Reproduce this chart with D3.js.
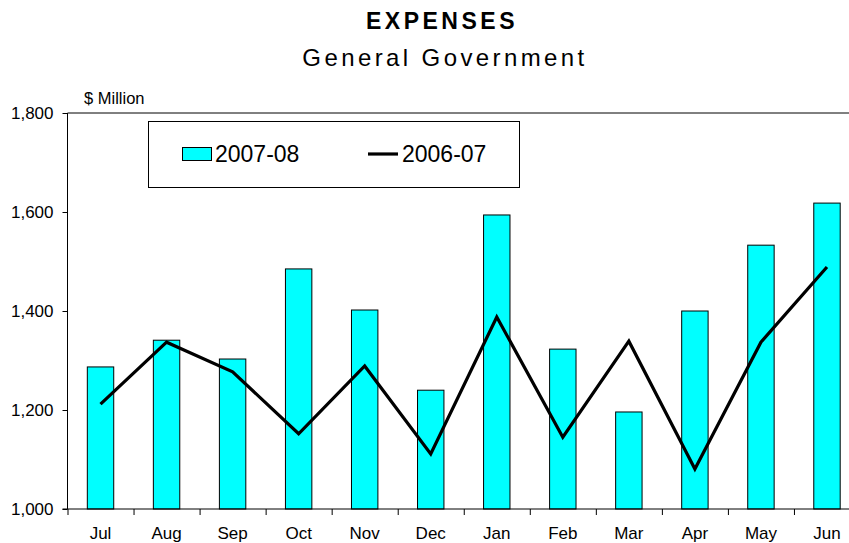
<!DOCTYPE html>
<html>
<head>
<meta charset="utf-8">
<script src="https://cdn.jsdelivr.net/npm/d3@7"></script>
<style>
  body { margin: 0; background: #fff; }
  svg { display: block; font-family: "Liberation Sans", Arial, sans-serif; }
</style>
</head>
<body>
<svg id="chart" width="849" height="543"></svg>
<script>
const months = ['Jul', 'Aug', 'Sep', 'Oct', 'Nov', 'Dec', 'Jan', 'Feb', 'Mar', 'Apr', 'May', 'Jun'];
const expenses0708 = [1287, 1341, 1303, 1485, 1402, 1240, 1594, 1323, 1196, 1400, 1533, 1618];
const expenses0607 = [1212, 1337, 1277, 1152, 1289, 1111, 1388, 1145, 1339, 1081, 1337, 1489];
const yTicks = [1000, 1200, 1400, 1600, 1800];

const svg = d3.select('#chart');
const plotLeft = 67.5, plotRight = 860, plotTop = 113, plotBottom = 509;

const y = d3.scaleLinear().domain([1000, 1800]).range([plotBottom, plotTop]);
const xCat = d3.scaleBand().domain(months).range([plotLeft, plotRight]).padding(0);
const xBar = d3.scaleBand().domain(months).range([plotLeft, plotRight])
  .paddingInner(0.6).paddingOuter(0.3);

// titles
svg.append('text')
  .attr('x', 442).attr('y', 29)
  .attr('text-anchor', 'middle')
  .attr('font-size', '23px')
  .attr('font-weight', 'bold')
  .attr('letter-spacing', '3.5px')
  .text('EXPENSES');

svg.append('text')
  .attr('x', 445).attr('y', 66)
  .attr('text-anchor', 'middle')
  .attr('font-size', '24px')
  .attr('letter-spacing', '3.4px')
  .text('General Government');

svg.append('text')
  .attr('x', 84).attr('y', 104)
  .attr('font-size', '16.5px')
  .text('$ Million');

// top frame line
svg.append('line')
  .attr('x1', plotLeft).attr('x2', 849)
  .attr('y1', plotTop).attr('y2', plotTop)
  .attr('stroke', '#000').attr('stroke-width', 1);

// bars
svg.append('g')
  .selectAll('rect')
  .data(expenses0708)
  .enter()
  .append('rect')
  .attr('x', (d, i) => xBar(months[i]))
  .attr('y', (d) => y(d))
  .attr('width', xBar.bandwidth())
  .attr('height', (d) => plotBottom - y(d))
  .attr('fill', '#00ffff')
  .attr('stroke', '#000')
  .attr('stroke-width', 1);

// line
const line = d3.line()
  .x((d, i) => xCat(months[i]) + xCat.bandwidth() / 2)
  .y((d) => y(d));

svg.append('path')
  .datum(expenses0607)
  .attr('d', line)
  .attr('fill', 'none')
  .attr('stroke', '#000')
  .attr('stroke-width', 3.2)
  .attr('stroke-linejoin', 'miter');

// y axis
const yAxis = d3.axisLeft(y)
  .tickValues(yTicks)
  .tickSize(5)
  .tickPadding(9)
  .tickFormat(d3.format(','));

const gy = svg.append('g')
  .attr('transform', `translate(${plotLeft},0)`)
  .call(yAxis)
  .attr('font-family', null)
  .attr('font-size', null);
gy.select('.domain').attr('d', `M0,${plotTop}V${plotBottom}`).attr('stroke', '#000');
gy.selectAll('text')
  .attr('font-size', '17px')
  .attr('fill', '#000');

// x axis
const gx = svg.append('g')
  .attr('transform', `translate(0,${plotBottom})`);
gx.append('line')
  .attr('x1', plotLeft - 5).attr('x2', 849)
  .attr('stroke', '#000');
gx.selectAll('.tick')
  .data(months)
  .enter()
  .append('line')
  .attr('x1', (m) => xCat(m) + 0.5)
  .attr('x2', (m) => xCat(m) + 0.5)
  .attr('y1', 0).attr('y2', 6)
  .attr('stroke', '#000');
gx.selectAll('.lbl')
  .data(months)
  .enter()
  .append('text')
  .attr('x', (m) => xCat(m) + xCat.bandwidth() / 2)
  .attr('y', 30)
  .attr('text-anchor', 'middle')
  .attr('font-size', '17px')
  .text((m) => m);

// legend
const lg = svg.append('g');
lg.append('rect')
  .attr('x', 148.5).attr('y', 121.5)
  .attr('width', 371).attr('height', 66)
  .attr('fill', '#fff')
  .attr('stroke', '#000');
lg.append('rect')
  .attr('x', 182.5).attr('y', 147.5)
  .attr('width', 29).attr('height', 13)
  .attr('fill', '#00ffff')
  .attr('stroke', '#000');
lg.append('text')
  .attr('x', 215).attr('y', 162)
  .attr('font-size', '23px')
  .text('2007-08');
lg.append('line')
  .attr('x1', 368).attr('x2', 398)
  .attr('y1', 154).attr('y2', 154)
  .attr('stroke', '#000')
  .attr('stroke-width', 3.2);
lg.append('text')
  .attr('x', 402).attr('y', 162)
  .attr('font-size', '23px')
  .text('2006-07');
</script>
</body>
</html>
